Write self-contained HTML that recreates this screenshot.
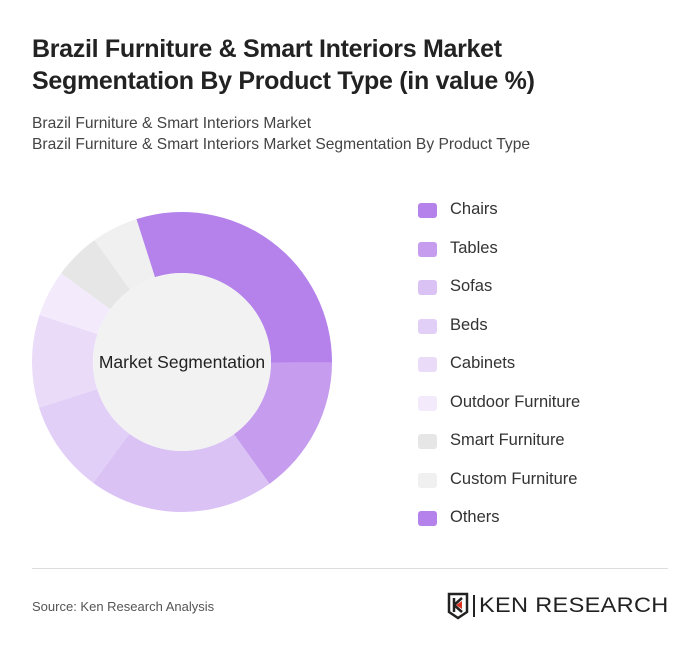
<!DOCTYPE html>
<html><head><meta charset="utf-8"><style>
body{margin:0;width:700px;height:653px;background:#fff;font-family:"Liberation Sans",sans-serif;position:relative;overflow:hidden}
.t{position:absolute;left:32px;top:33px;font-size:25px;font-weight:bold;color:#222;line-height:32px;letter-spacing:-0.3px}
.s{position:absolute;left:32px;top:113px;font-size:15.6px;color:#444;line-height:21px}
.leg{position:absolute;left:418px;font-size:16.5px;color:#333}
.leg i{position:absolute;left:0;top:2px;width:19px;height:15px;border-radius:3px}
.leg span{position:absolute;left:32px;top:-1px;white-space:nowrap}
.hr{position:absolute;left:32px;top:568px;width:636px;height:1px;background:#ddd}
.src{position:absolute;left:32px;top:599px;font-size:13px;color:#555}
</style></head><body>
<div class="t">Brazil Furniture &amp; Smart Interiors Market<br>Segmentation By Product Type (in value %)</div>
<div class="s">Brazil Furniture &amp; Smart Interiors Market<br>Brazil Furniture &amp; Smart Interiors Market Segmentation By Product Type</div>
<svg id="donut" width="700" height="653" style="position:absolute;left:0;top:0"></svg>
<div id="legend"></div>
<div class="hr"></div>
<div class="src">Source: Ken Research Analysis</div>
<div style="position:absolute;left:447px;top:592px;width:230px;height:28px">
<svg width="24" height="28" style="position:absolute;left:0;top:0"><path d="M2 2H20V20L11 26L2 20Z" fill="none" stroke="#222" stroke-width="2.5"/><path d="M7 6V20M7 13L15 6M7 13L15 20" stroke="#222" stroke-width="2.5" fill="none"/><path d="M9 13L15 9V17Z" fill="#d32"/></svg>
<div style="position:absolute;left:26px;top:3px;width:2px;height:22px;background:#222"></div>
<div style="position:absolute;left:32px;top:2px;font-size:21px;color:#222;letter-spacing:0.3px;transform:scaleX(1.12);transform-origin:left">KEN RESEARCH</div>
</div>
<script>
const categories=["Chairs","Tables","Sofas","Beds","Cabinets","Outdoor Furniture","Smart Furniture","Custom Furniture","Others"];
const values=[30,15,20,10,10,5,5,5,0];
const colors=["#b482ea","#c59cee","#dac2f5","#e2cff7","#eadcf8","#f3ebfc","#e6e6e6","#f0f0f0","#b482ea"];
const svg=document.getElementById('donut');const NS='http://www.w3.org/2000/svg';
const cx=182,cy=362,R=150,r=89,start=-17.7;
const total=values.reduce((a,b)=>a+b,0);
function pt(a,rad){const t=(a-90)*Math.PI/180;return[cx+rad*Math.cos(t),cy+rad*Math.sin(t)];}
let a=start;
values.forEach((v,i)=>{if(!v)return;const sw=v/total*360,b=a+sw,l=sw>180?1:0;
const[p1,p2,p3,p4]=[pt(a,R),pt(b,R),pt(b,r),pt(a,r)];
const p=document.createElementNS(NS,'path');
p.setAttribute('d',`M${p1}A${R},${R} 0 ${l} 1 ${p2}L${p3}A${r},${r} 0 ${l} 0 ${p4}Z`);
p.setAttribute('fill',colors[i]);


svg.appendChild(p);a=b;});
const c=document.createElementNS(NS,'circle');c.setAttribute('cx',cx);c.setAttribute('cy',cy);c.setAttribute('r',r);c.setAttribute('fill','#f2f2f2');


svg.appendChild(c);
const tx=document.createElementNS(NS,'text');tx.setAttribute('x',cx);tx.setAttribute('y',cy+6);tx.setAttribute('text-anchor','middle');tx.setAttribute('font-size','17.5');tx.setAttribute('fill','#222');tx.setAttribute('font-family','Liberation Sans, sans-serif');tx.textContent='Market Segmentation';


svg.appendChild(tx);
const lg=document.getElementById('legend');
categories.forEach((n,i)=>{const d=document.createElement('div');d.className='leg';d.style.top=(201+i*38.5)+'px';
d.innerHTML=`<i style="background:${colors[i]}"></i><span>${n}</span>`;


lg.appendChild(d);});
</script>
</body></html>
